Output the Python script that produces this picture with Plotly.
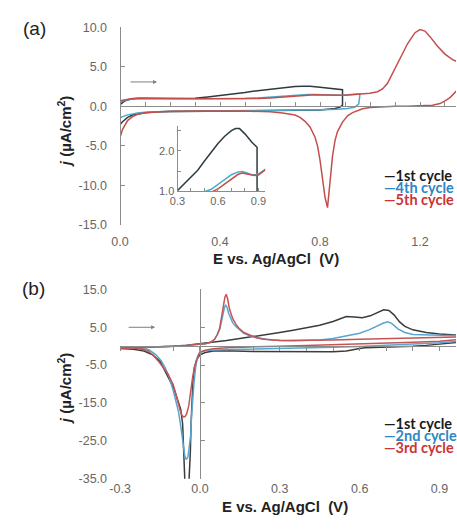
import plotly.graph_objects as go

W, H = 457, 529

# ---------------- Panel (a) data ----------------
a_E_1 = [0.00,0.02,0.04,0.07,0.10,0.15,0.20,0.25,0.30,0.35,0.40,0.45,0.50,0.55,0.60,0.65,0.70,0.73,0.76,0.80,0.85,0.89,
         0.89,0.88,0.86,0.83,0.80,0.70,0.60,0.50,0.40,0.30,0.20,0.15,0.10,0.07,0.05,0.03,0.02,0.01,0.00]
a_j_1 = [0.20,0.70,0.90,1.00,1.00,0.99,0.98,0.99,1.02,1.18,1.35,1.52,1.75,1.98,2.18,2.36,2.50,2.55,2.55,2.42,2.22,2.09,
         0.15,-0.10,-0.28,-0.38,-0.45,-0.50,-0.54,-0.57,-0.60,-0.62,-0.65,-0.70,-0.80,-0.95,-1.10,-1.40,-1.65,-1.95,-2.30]

a_E_4 = [0.00,0.02,0.05,0.08,0.10,0.20,0.30,0.40,0.45,0.50,0.55,0.60,0.65,0.70,0.75,0.78,0.81,0.85,0.88,0.91,0.94,0.96,
         0.955,0.94,0.91,0.87,0.80,0.70,0.60,0.50,0.40,0.30,0.20,0.15,0.10,0.07,0.05,0.03,0.01,0.00]
a_j_4 = [0.50,0.78,0.95,1.02,1.00,0.97,0.96,0.96,0.97,0.99,1.05,1.17,1.31,1.41,1.48,1.49,1.46,1.41,1.41,1.45,1.52,1.57,
         0.30,-0.10,-0.28,-0.38,-0.44,-0.49,-0.53,-0.56,-0.58,-0.60,-0.62,-0.66,-0.74,-0.84,-0.94,-1.08,-1.30,-1.50]

a_E_5 = [0.00,0.02,0.05,0.08,0.10,0.20,0.30,0.40,0.50,0.55,0.60,0.65,0.70,0.75,0.78,0.82,0.87,0.90,0.95,1.00,1.03,1.05,1.07,
         1.10,1.13,1.15,1.18,1.20,1.22,1.24,1.27,1.30,1.33,1.36,
         1.36,1.34,1.32,1.30,1.28,1.25,1.20,1.15,1.10,1.05,1.00,0.97,0.95,0.93,0.91,0.89,0.87,0.86,0.85,0.84,0.83,0.82,
         0.81,0.80,0.79,0.78,0.76,0.74,0.72,0.70,0.65,0.60,0.50,0.40,0.30,0.20,0.15,0.10,0.07,0.05,0.03,0.01,0.00]
a_j_5 = [0.70,0.85,1.00,1.04,1.02,0.98,0.96,0.96,0.96,0.98,1.06,1.18,1.31,1.42,1.45,1.43,1.39,1.40,1.52,1.66,1.85,2.20,2.90,
         4.80,6.70,7.90,9.30,9.70,9.50,8.80,7.60,6.60,5.90,5.50,
         2.40,1.70,1.10,0.70,0.35,0.15,0.05,0.00,0.00,-0.05,-0.15,-0.30,-0.50,-0.80,-1.20,-2.00,-3.20,-4.30,-6.30,-9.50,-12.80,-11.50,
         -8.80,-6.80,-5.00,-3.90,-2.60,-1.90,-1.40,-1.10,-0.85,-0.70,-0.60,-0.57,-0.58,-0.62,-0.68,-0.82,-1.00,-1.30,-1.80,-2.90,-3.90]

a_names = ["1st cycle", "4th cycle", "5th cycle"]

# ---------------- Panel (b) data ----------------
b_E_1 = [-0.30,-0.25,-0.20,-0.15,-0.10,-0.05,0.00,0.05,0.10,0.15,0.20,0.25,0.30,0.35,0.40,0.45,0.50,0.53,0.55,0.58,0.61,0.64,
         0.67,0.69,0.71,0.73,0.75,0.77,0.80,0.85,0.90,0.97,
         0.97,0.93,0.90,0.85,0.80,0.75,0.70,0.65,0.62,0.60,0.58,0.55,0.50,0.40,0.30,0.20,0.10,0.05,0.02,0.00,-0.012,-0.02,
         -0.026,-0.03,-0.033,-0.036,-0.038,-0.043,-0.048,-0.053,-0.057,-0.06,-0.065,-0.072,-0.085,-0.096,-0.115,-0.133,-0.15,
         -0.18,-0.21,-0.25,-0.30]
b_j_1 = [-0.5,-0.4,-0.3,-0.15,0.0,0.25,0.6,1.0,1.5,2.0,2.5,3.0,3.6,4.2,4.8,5.5,6.5,7.3,7.8,7.7,7.5,8.0,
         9.0,9.6,9.4,8.2,6.4,5.2,4.3,3.6,3.2,2.9,
         1.0,0.7,0.5,0.2,0.0,-0.1,-0.2,-0.3,-0.4,-0.6,-0.9,-1.3,-1.5,-1.5,-1.5,-1.4,-1.25,-1.3,-1.7,-2.3,-3.5,-5.5,
         -9.0,-14.0,-20.0,-28.0,-36.0,-44.0,-46.0,-42.0,-35.0,-25.3,-20.5,-16.7,-13.8,-11.5,-8.8,-6.4,-4.0,
         -2.2,-1.3,-0.8,-0.6]

b_E_2 = [-0.30,-0.25,-0.20,-0.15,-0.10,-0.05,0.00,0.02,0.04,0.055,0.065,0.075,0.085,0.092,0.097,0.102,0.108,0.115,0.123,0.135,
         0.147,0.165,0.185,0.21,0.25,0.30,0.35,0.40,0.45,0.50,0.55,0.60,0.635,0.67,0.69,0.706,0.72,0.745,0.77,0.80,0.85,0.90,0.97,
         0.97,0.90,0.80,0.70,0.60,0.50,0.40,0.30,0.20,0.10,0.05,0.02,0.00,-0.01,-0.016,-0.022,-0.026,-0.031,-0.035,-0.04,
         -0.045,-0.05,-0.054,-0.058,-0.063,-0.068,-0.072,-0.08,-0.09,-0.10,-0.115,-0.13,-0.145,-0.165,-0.19,-0.22,-0.26,-0.30]
b_j_2 = [-0.6,-0.5,-0.35,-0.2,0.0,0.2,0.4,0.6,1.0,1.8,3.0,4.5,7.8,10.2,10.9,10.2,8.6,7.3,6.2,5.2,
         4.4,3.4,2.8,2.3,1.8,1.5,1.4,1.4,1.6,2.0,2.6,3.4,4.3,5.5,6.1,6.4,6.0,4.5,3.6,3.1,2.9,2.85,2.8,
         1.3,0.9,0.5,0.2,-0.1,-0.3,-0.45,-0.55,-0.65,-0.8,-1.0,-1.2,-1.6,-3.0,-5.6,-9.5,-12.5,-18.0,-23.7,-27.5,
         -29.3,-29.8,-29.7,-28.5,-25.5,-22.8,-21.1,-17.5,-14.3,-11.8,-8.3,-5.8,-3.9,-2.3,-1.0,-0.6,-0.5,-0.5]

b_E_3 = [-0.30,-0.25,-0.20,-0.15,-0.10,-0.05,0.00,0.02,0.04,0.055,0.065,0.074,0.082,0.088,0.094,0.099,0.104,0.111,0.117,0.123,
         0.135,0.147,0.165,0.184,0.21,0.233,0.27,0.31,0.40,0.50,0.60,0.70,0.80,0.90,0.97,
         0.97,0.90,0.80,0.70,0.60,0.50,0.40,0.30,0.20,0.10,0.05,0.02,0.00,-0.005,-0.012,-0.021,-0.028,-0.035,-0.042,-0.05,
         -0.056,-0.062,-0.068,-0.075,-0.082,-0.09,-0.10,-0.12,-0.14,-0.157,-0.175,-0.194,-0.22,-0.267,-0.30]
b_j_3 = [-0.6,-0.5,-0.35,-0.2,0.0,0.2,0.4,0.6,1.0,1.8,3.0,4.7,8.0,11.0,13.0,13.7,12.5,9.8,8.4,7.3,
         5.8,4.7,3.6,3.0,2.3,1.9,1.6,1.5,1.5,1.6,1.8,1.95,2.1,2.3,2.45,
         1.7,1.3,1.0,0.75,0.5,0.3,0.15,0.0,-0.15,-0.4,-0.7,-1.1,-1.6,-2.2,-3.8,-5.6,-8.5,-12.5,-15.8,-17.9,
         -18.6,-18.7,-18.2,-16.8,-14.8,-12.5,-10.2,-7.3,-5.3,-3.9,-2.4,-1.3,-0.8,-0.3,-0.3]

b_names = ["1st cycle", "2nd cycle", "3rd cycle"]

# ticks
a_xtick_vals = [0.0, 0.4, 0.8, 1.2]
a_ytick_vals = [-15, -10, -5, 0, 5, 10]
b_xtick_vals = [-0.3, 0.0, 0.3, 0.6, 0.9]
b_ytick_vals = [-35, -25, -15, -5, 5, 15]

# ---------------- layout geometry ----------------
def fx(px):
    return px / W

def fy(py):
    return 1 - py / H

a_xrange = [0.0, 1.344]
a_yrange = [-15, 10]
b_xrange = [-0.3, 0.962]
b_yrange = [-35, 15]
a_xdom = [fx(112), 1.0]
a_ydom = [fy(224), fy(20.7)]
b_xdom = [fx(112), 1.0]
b_ydom = [fy(484.5), fy(290)]
in_xdom = [fx(171), fx(261)]
in_ydom = [fy(189.3), fy(122)]


def zero_pos(dom, rng):
    return dom[0] + (0 - rng[0]) / (rng[1] - rng[0]) * (dom[1] - dom[0])

a_cols = ["#2f3b40", "#4aaacb", "#c24f4c"]
b_cols = ["#3c3c3c", "#5aa5cf", "#c55555"]
txt_cols = ["#1a1a1a", "#2e86c4", "#cc3333"]

fig = go.Figure()

for E, j, c, n in zip([a_E_1, a_E_4, a_E_5], [a_j_1, a_j_4, a_j_5], a_cols, a_names):
    fig.add_trace(go.Scatter(x=E, y=j, mode="lines", name=n, line=dict(color=c, width=1.5),
                             xaxis="x", yaxis="y", showlegend=False))
for E, j, c, n in zip([a_E_1, a_E_4, a_E_5], [a_j_1, a_j_4, a_j_5], a_cols, a_names):
    fig.add_trace(go.Scatter(x=E, y=j, mode="lines", name=n, line=dict(color=c, width=1.5),
                             xaxis="x5", yaxis="y5", showlegend=False))
for E, j, c, n in zip([b_E_1, b_E_2, b_E_3], [b_j_1, b_j_2, b_j_3], b_cols, b_names):
    fig.add_trace(go.Scatter(x=E, y=j, mode="lines", name=n, line=dict(color=c, width=1.5),
                             xaxis="x2", yaxis="y2", showlegend=False))

# empty traces so overlay axes (axis lines crossing at zero) are drawn
for xa, ya in [("x3", "y"), ("x", "y3"), ("x4", "y2"), ("x2", "y4")]:
    fig.add_trace(go.Scatter(x=[None], y=[None], xaxis=xa, yaxis=ya, showlegend=False, hoverinfo="skip"))

tickfont = dict(family="Liberation Sans, Arial", size=12.5, color="#666666")
axcol = "#8c8c8c"

def label_axis(dom, rng, vals, anchor, standoff):
    return dict(domain=dom, range=rng, anchor=anchor, showline=False, zeroline=False, showgrid=False,
                ticks="", tickmode="array", tickvals=vals, ticktext=[f"{v:.1f}" for v in vals],
                tickfont=tickfont, ticklabelstandoff=standoff, fixedrange=True)

def line_axis(rng, over, pos, dtick, tick0, ticks, side):
    return dict(range=rng, overlaying=over, anchor="free", position=pos, showline=True, linecolor=axcol,
                linewidth=1, zeroline=False, showgrid=False, ticks=ticks, ticklen=4, tickcolor=axcol,
                tickmode="linear", dtick=dtick, tick0=tick0, showticklabels=False, side=side, fixedrange=True)

fig.update_layout(
    width=W, height=H, margin=dict(l=0, r=0, t=0, b=0),
    paper_bgcolor="white", plot_bgcolor="rgba(0,0,0,0)",
    xaxis=label_axis(a_xdom, a_xrange, a_xtick_vals, "y", 7),
    yaxis=label_axis(a_ydom, a_yrange, a_ytick_vals, "x", 12),
    xaxis2=label_axis(b_xdom, b_xrange, b_xtick_vals, "y2", 1),
    yaxis2=label_axis(b_ydom, b_yrange, b_ytick_vals, "x2", 12),
    xaxis3=line_axis(a_xrange, "x", zero_pos(a_ydom, a_yrange), 0.1, 0, "inside", "bottom"),
    yaxis3=line_axis(a_yrange, "y", zero_pos(a_xdom, a_xrange), 5, 0, "inside", "left"),
    xaxis4=line_axis(b_xrange, "x2", zero_pos(b_ydom, b_yrange), 0.1, 0, "outside", "bottom"),
    yaxis4=line_axis(b_yrange, "y2", zero_pos(b_xdom, b_xrange), 10, 5, "inside", "left"),
    xaxis5=dict(domain=in_xdom, range=[0.3, 0.95], anchor="y5", showline=True, linecolor=axcol, zeroline=False,
                showgrid=False, ticks="inside", ticklen=3, tickcolor=axcol, tickmode="linear", tick0=0.3, dtick=0.3,
                tickformat=".1f", tickfont=dict(family="Liberation Sans, Arial", size=11, color="#666666"),
                minor=dict(ticks="inside", dtick=0.1, tick0=0.3, ticklen=3, tickcolor=axcol), fixedrange=True),
    yaxis5=dict(domain=in_ydom, range=[1.0, 2.62], anchor="x5", showline=True, linecolor=axcol, zeroline=False,
                showgrid=False, ticks="inside", ticklen=3, tickcolor=axcol, tickmode="linear", tick0=1.0, dtick=1.0,
                tickformat=".1f", tickfont=dict(family="Liberation Sans, Arial", size=11, color="#666666"),
                minor=dict(ticks="inside", dtick=0.5, tick0=1.0, ticklen=3, tickcolor=axcol), fixedrange=True),
)

ann = []
def add_text(text, px, py, size, bold=False, angle=0, color="#222222", family="Liberation Sans, Arial", xanchor="center"):
    ann.append(dict(text=text, x=fx(px), y=fy(py), xref="paper", yref="paper", showarrow=False,
                    font=dict(family=family, size=size, color=color), textangle=angle,
                    xanchor=xanchor, yanchor="middle"))

add_text("(a)", 24, 22, 19)
add_text("(b)", 23, 289, 19)
add_text("<b><i>j</i> (µA/cm<sup>2</sup>)</b>", 55, 128, 15, angle=-90)
add_text("<b><i>j</i> (µA/cm<sup>2</sup>)</b>", 55, 392, 15, angle=-90)
add_text("<b>E vs. Ag/AgCl  (V)</b>", 272, 258, 15)
add_text("<b>E vs. Ag/AgCl  (V)</b>", 281, 513, 15)

for i, (n, c) in enumerate(zip(a_names, txt_cols)):
    add_text("<b>—" + n + "</b>", 381, 173 + 12.5 * i, 14.5, color=c, family="Lato", xanchor="left")
for i, (n, c) in enumerate(zip(b_names, txt_cols)):
    add_text("<b>—" + n + "</b>", 381, 428 + 12 * i, 14.5, color=c, family="Lato", xanchor="left")

# direction arrows
for px, py in [(150, 77), (148, 329)]:
    ann.append(dict(x=fx(px), y=fy(py), xref="paper", yref="paper", ax=-28, ay=0, axref="pixel", ayref="pixel",
                    text="", showarrow=True, arrowhead=2, arrowsize=0.8, arrowwidth=1, arrowcolor="#7f7f7f"))

fig.update_layout(annotations=ann)
fig.write_html("out.html", config={"displayModeBar": False},
               post_script="document.body.style.margin='0';document.body.style.overflow='hidden';")
